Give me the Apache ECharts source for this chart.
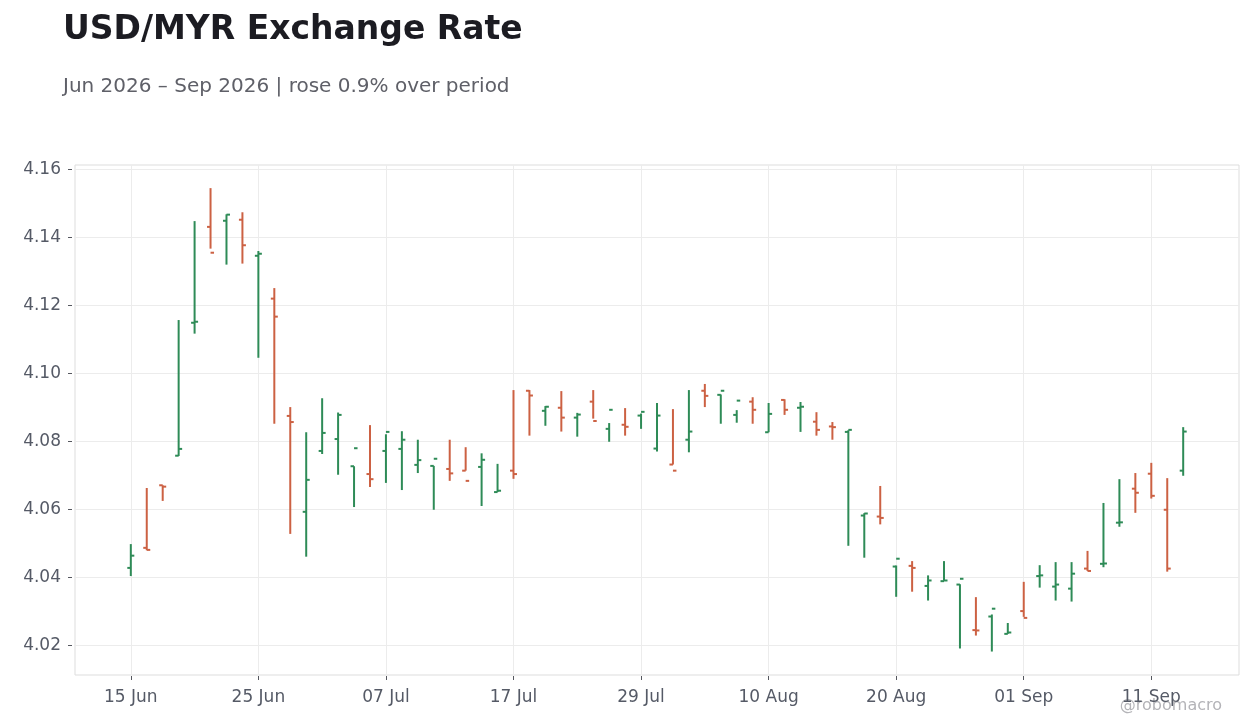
<!DOCTYPE html>
<html>
<head>
<meta charset="utf-8">
<title>USD/MYR Exchange Rate</title>
<script src="https://cdn.jsdelivr.net/npm/echarts@6.0.0/dist/echarts.min.js"></script>
<style>
  html, body { margin: 0; padding: 0; background: #ffffff; }
  #main { width: 1260px; height: 728px; }
</style>
</head>
<body>
<div id="main"></div>
<script>
// business days, Jun - Sep 2026
var dates = [
  '15 Jun', '16 Jun', '17 Jun', '18 Jun', '19 Jun', '22 Jun', '23 Jun', '24 Jun', '25 Jun', '26 Jun', '29 Jun', '30 Jun',
  '01 Jul', '02 Jul', '03 Jul', '06 Jul', '07 Jul', '08 Jul', '09 Jul', '10 Jul', '13 Jul', '14 Jul', '15 Jul', '16 Jul',
  '17 Jul', '20 Jul', '21 Jul', '22 Jul', '23 Jul', '24 Jul', '27 Jul', '28 Jul', '29 Jul', '30 Jul', '31 Jul',
  '03 Aug', '04 Aug', '05 Aug', '06 Aug', '07 Aug', '10 Aug', '11 Aug', '12 Aug', '13 Aug', '14 Aug', '17 Aug',
  '18 Aug', '19 Aug', '20 Aug', '21 Aug', '24 Aug', '25 Aug', '26 Aug', '27 Aug', '28 Aug', '31 Aug',
  '01 Sep', '02 Sep', '03 Sep', '04 Sep', '07 Sep', '08 Sep', '09 Sep', '10 Sep', '11 Sep', '14 Sep', '15 Sep'
];

var opens = [
  4.0428, 4.0487, 4.0671, 4.0758, 4.1149, 4.1431, 4.1449, 4.1452, 4.1346, 4.1220, 4.0875, 4.0593,
  4.0772, 4.0807, 4.0727, 4.0704, 4.0772, 4.0778, 4.0731, 4.0728, 4.0719, 4.0714, 4.0725, 4.0651,
  4.0714, 4.0949, 4.0890, 4.0899, 4.0870, 4.0917, 4.0837, 4.0849, 4.0876, 4.0779, 4.0732,
  4.0805, 4.0949, 4.0937, 4.0878, 4.0917, 4.0827, 4.0922, 4.0899, 4.0858, 4.0844, 4.0828,
  4.0582, 4.0579, 4.0432, 4.0434, 4.0375, 4.0389, 4.0379, 4.0245, 4.0285, 4.0234,
  4.0301, 4.0404, 4.0373, 4.0367, 4.0426, 4.0440, 4.0561, 4.0661, 4.0705, 4.0599, 4.0714
];
var highs = [
  4.0498, 4.0663, 4.0671, 4.1157, 4.1448, 4.1545, 4.1468, 4.1474, 4.1360, 4.1251, 4.0901, 4.0827,
  4.0927, 4.0885, 4.0727, 4.0848, 4.0821, 4.0830, 4.0805, 4.0728, 4.0805, 4.0783, 4.0765, 4.0734,
  4.0951, 4.0951, 4.0904, 4.0948, 4.0884, 4.0951, 4.0854, 4.0898, 4.0882, 4.0913, 4.0895,
  4.0951, 4.0969, 4.0938, 4.0892, 4.0930, 4.0913, 4.0924, 4.0916, 4.0886, 4.0857, 4.0833,
  4.0589, 4.0669, 4.0435, 4.0448, 4.0406, 4.0448, 4.0380, 4.0342, 4.0291, 4.0266,
  4.0387, 4.0436, 4.0445, 4.0445, 4.0478, 4.0619, 4.0689, 4.0707, 4.0737, 4.0692, 4.0842
];
var lows = [
  4.0404, 4.0480, 4.0625, 4.0757, 4.1117, 4.1367, 4.1320, 4.1323, 4.1046, 4.0852, 4.0528, 4.0461,
  4.0763, 4.0702, 4.0607, 4.0666, 4.0678, 4.0657, 4.0707, 4.0599, 4.0684, 4.0714, 4.0610, 4.0651,
  4.0690, 4.0817, 4.0846, 4.0829, 4.0814, 4.0867, 4.0799, 4.0817, 4.0837, 4.0770, 4.0732,
  4.0768, 4.0901, 4.0852, 4.0855, 4.0852, 4.0827, 4.0878, 4.0828, 4.0817, 4.0805, 4.0493,
  4.0458, 4.0556, 4.0343, 4.0358, 4.0332, 4.0390, 4.0191, 4.0229, 4.0182, 4.0234,
  4.0284, 4.0370, 4.0332, 4.0329, 4.0419, 4.0430, 4.0549, 4.0590, 4.0632, 4.0417, 4.0699
];
var closes = [
  4.0464, 4.0481, 4.0667, 4.0778, 4.1152, 4.1355, 4.1467, 4.1377, 4.1352, 4.1167, 4.0857, 4.0687,
  4.0825, 4.0878, 4.0780, 4.0689, 4.0828, 4.0805, 4.0745, 4.0749, 4.0706, 4.0684, 4.0746, 4.0655,
  4.0704, 4.0935, 4.0902, 4.0870, 4.0879, 4.0860, 4.0893, 4.0843, 4.0887, 4.0876, 4.0714,
  4.0829, 4.0934, 4.0949, 4.0920, 4.0893, 4.0881, 4.0893, 4.0902, 4.0834, 4.0842, 4.0834,
  4.0588, 4.0575, 4.0455, 4.0428, 4.0391, 4.0391, 4.0396, 4.0244, 4.0308, 4.0238,
  4.0281, 4.0406, 4.0379, 4.0411, 4.0419, 4.0441, 4.0562, 4.0649, 4.0640, 4.0426, 4.0829
];

var yTicks = [4.02, 4.04, 4.06, 4.08, 4.10, 4.12, 4.14, 4.16];

var UP = '#2e8b57';
var DOWN = '#cc6143';
var PAD = 3; // empty slots either side of the data

var axisCats = [];
for (var p = 0; p < PAD; p++) axisCats.push('');
axisCats = axisCats.concat(dates);
for (var q = 0; q < PAD; q++) axisCats.push('');

var ohlc = dates.map(function (d, i) {
  return [i + PAD, opens[i], highs[i], lows[i], closes[i]];
});

function showEvery8(index) {
  return index >= PAD && (index - PAD) % 8 === 0;
}

function renderBar(params, api) {
  var x = api.value(0);
  var o = api.value(1), h = api.value(2), l = api.value(3), c = api.value(4);
  var pH = api.coord([x, h]);
  var pL = api.coord([x, l]);
  var pO = api.coord([x, o]);
  var pC = api.coord([x, c]);
  var style = { stroke: c >= o ? UP : DOWN, lineWidth: 2 };
  return {
    type: 'group',
    children: [
      { type: 'line', shape: { x1: pH[0], y1: pH[1], x2: pL[0], y2: pL[1] }, style: style },
      { type: 'line', shape: { x1: pO[0] - 3.5, y1: pO[1], x2: pO[0], y2: pO[1] }, style: style },
      { type: 'line', shape: { x1: pC[0], y1: pC[1], x2: pC[0] + 3.5, y2: pC[1] }, style: style }
    ]
  };
}

var myChart = echarts.init(document.getElementById('main'));

myChart.setOption({
  backgroundColor: '#ffffff',
  animation: false,
  textStyle: { fontFamily: 'DejaVu Sans' },
  title: [{
    text: 'USD/MYR Exchange Rate',
    left: 63,
    top: 14,
    padding: 0,
    textStyle: { fontSize: 33, fontWeight: 'bold', color: '#1c1c22', fontFamily: 'DejaVu Sans' }
  }, {
    text: 'Jun 2026 \u2013 Sep 2026 | rose 0.9% over period',
    left: 63,
    top: 77,
    padding: 0,
    textStyle: { fontSize: 20, fontWeight: 'normal', color: '#5f6068', fontFamily: 'DejaVu Sans' }
  }],
  graphic: [{
    type: 'text',
    right: 38,
    bottom: 14,
    style: { text: '@robomacro', fontSize: 16, fill: '#b4b4b8', fontFamily: 'DejaVu Sans' }
  }],
  grid: {
    left: 75,
    right: 21,
    top: 165,
    bottom: 53,
    show: true,
    backgroundColor: '#ffffff',
    borderColor: '#dddddd',
    borderWidth: 1
  },
  xAxis: {
    type: 'category',
    data: axisCats,
    boundaryGap: true,
    offset: 1,
    axisLine: { show: false },
    axisTick: { show: true, interval: showEvery8, alignWithLabel: true, length: 4, lineStyle: { color: '#55575f' } },
    axisLabel: { interval: showEvery8, margin: 13, fontSize: 17, color: '#555a66' },
    splitLine: { show: true, interval: showEvery8, alignWithLabel: true, lineStyle: { color: '#ececec', width: 1 } }
  },
  yAxis: {
    type: 'value',
    min: 4.0113,
    max: 4.1613,
    splitNumber: 7,
    offset: 3,
    axisLine: { show: false },
    axisTick: { show: true, customValues: yTicks, length: 4, lineStyle: { color: '#55575f' } },
    axisLabel: {
      customValues: yTicks,
      margin: 11,
      fontSize: 17,
      color: '#555a66',
      formatter: function (v) { return v.toFixed(2); }
    },
    splitLine: { show: true, lineStyle: { color: '#ececec', width: 1 } }
  },
  series: [{
    type: 'custom',
    renderItem: renderBar,
    encode: { x: 0, y: [1, 2, 3, 4] },
    data: ohlc
  }]
});
</script>
</body>
</html>
